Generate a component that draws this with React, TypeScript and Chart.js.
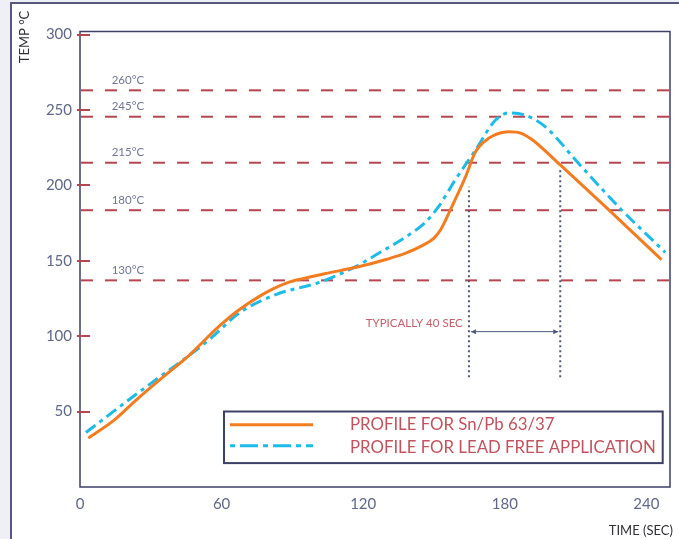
import React, { useEffect, useRef } from 'react';
import { Chart, registerables } from 'chart.js';

Chart.register(...registerables);

// Sn/Pb 63/37 profile (time in sec, temperature in °C)
const snPbTime = [3.5, 15, 24, 34, 46, 59, 67, 76, 82, 88, 94, 104, 118, 130, 138, 145, 150, 153, 156.3, 160, 163.4, 167.6, 173, 181.7, 187, 191.5, 203.5, 222.5, 246.4];
const snPbTemp = [32.4, 45, 58, 71.4, 87, 106.6, 117, 126.4, 131.5, 135.5, 138, 141.5, 146, 151, 155, 160, 165, 171, 181.6, 194, 205.8, 222.3, 231, 235.5, 234.5, 230.4, 213.5, 186, 150.7];

// Lead free profile
const leadFreeTime = [2.5, 21, 32.4, 46, 55, 67.6, 83, 101.4, 117, 126.7, 139.4, 146, 152, 159, 167.6, 176, 181.7, 188.7, 197.2, 211.2, 229.5, 248];
const leadFreeTemp = [36.1, 58.2, 71.4, 87, 98, 115.5, 127.6, 135.7, 146.3, 155.1, 167.2, 175, 186, 203.6, 223.4, 243.2, 248, 246.5, 238.8, 214.6, 183.7, 155.5];

// Reference temperature lines
const refLevels = [263, 245.5, 215, 183.5, 137];
const refLabels = ['260°C', '245°C', '215°C', '180°C', '130°C'];
const refLabelTime = 20.3;

// Axis ticks
const xTicks = [0, 60, 120, 180, 240];
const yTicks = [50, 100, 150, 200, 250, 300];

// "Typically 40 sec" window
const windowTimes = [164.8, 203.5];
const windowTops = [199, 210.8];
const windowBottom = 72.7;
const arrowTemp = 103;
const windowLabel = 'TYPICALLY 40 SEC';
const windowLabelTemp = 108.8;
const windowLabelTime = 162.2;

const seriesNames = ['PROFILE FOR Sn/Pb 63/37', 'PROFILE FOR LEAD FREE APPLICATION'];
const yTitle = 'TEMP °C';
const xTitle = 'TIME (SEC)';

const ORANGE = '#f47c20';
const BLUE = '#1fbbe8';
const RED = '#b4464f';
const NAVY = '#3d4067';

const decoPlugin = {
  id: 'deco',
  beforeDraw(chart: any) {
    const { ctx, width, height } = chart;
    ctx.save();
    ctx.fillStyle = '#eef0f5';
    ctx.fillRect(0, 0, width, height);
    ctx.fillStyle = '#ffffff';
    ctx.fillRect(11, 3, width, height);
    ctx.strokeStyle = '#55597c';
    ctx.lineWidth = 2;
    ctx.beginPath();
    ctx.moveTo(11, height + 5);
    ctx.lineTo(11, 3);
    ctx.lineTo(width + 5, 3);
    ctx.stroke();
    ctx.restore();
  },
  afterDatasetsDraw(chart: any) {
    const { ctx, chartArea } = chart;
    const xs = chart.scales.x;
    const ys = chart.scales.y;
    ctx.save();

    // plot border
    ctx.strokeStyle = NAVY;
    ctx.lineWidth = 1.5;
    ctx.strokeRect(chartArea.left, chartArea.top, chartArea.right - chartArea.left, chartArea.bottom - chartArea.top);

    // y tick marks
    ctx.strokeStyle = RED;
    ctx.lineWidth = 2;
    yTicks.forEach((v) => {
      const y = Math.round(ys.getPixelForValue(v));
      ctx.beginPath();
      ctx.moveTo(chartArea.left - 3, y);
      ctx.lineTo(chartArea.left + 10, y);
      ctx.stroke();
    });

    // reference labels
    ctx.fillStyle = '#6f7693';
    ctx.font = '11.5px Lato';
    ctx.textAlign = 'center';
    ctx.textBaseline = 'middle';
    refLevels.forEach((lv, i) => {
      ctx.fillText(refLabels[i], xs.getPixelForValue(refLabelTime), ys.getPixelForValue(lv) - 10);
    });

    // window label
    ctx.fillStyle = '#c3606a';
    ctx.font = '11.5px Lato';
    ctx.textAlign = 'right';
    ctx.fillText(windowLabel, xs.getPixelForValue(windowLabelTime), ys.getPixelForValue(windowLabelTemp));

    // arrow
    const ax1 = xs.getPixelForValue(windowTimes[0]) + 2;
    const ax2 = xs.getPixelForValue(windowTimes[1]) - 2;
    const ay = ys.getPixelForValue(arrowTemp);
    ctx.strokeStyle = '#4a5a78';
    ctx.fillStyle = '#4a5a78';
    ctx.lineWidth = 1;
    ctx.beginPath();
    ctx.moveTo(ax1, ay);
    ctx.lineTo(ax2, ay);
    ctx.stroke();
    ctx.beginPath();
    ctx.moveTo(ax1, ay);
    ctx.lineTo(ax1 + 5, ay - 2.5);
    ctx.lineTo(ax1 + 5, ay + 2.5);
    ctx.closePath();
    ctx.fill();
    ctx.beginPath();
    ctx.moveTo(ax2, ay);
    ctx.lineTo(ax2 - 5, ay - 2.5);
    ctx.lineTo(ax2 - 5, ay + 2.5);
    ctx.closePath();
    ctx.fill();

    // legend box
    const lx = chartArea.left + 144;
    const ly = chartArea.bottom - 75.5;
    const lw = 438.7;
    const lh = 51.6;
    ctx.fillStyle = '#ffffff';
    ctx.fillRect(lx, ly, lw, lh);
    ctx.strokeStyle = NAVY;
    ctx.lineWidth = 2;
    ctx.strokeRect(lx, ly, lw, lh);
    ctx.lineWidth = 3;
    ctx.strokeStyle = ORANGE;
    ctx.setLineDash([]);
    ctx.beginPath();
    ctx.moveTo(lx + 6, ly + 13.3);
    ctx.lineTo(lx + 89, ly + 13.3);
    ctx.stroke();
    ctx.strokeStyle = BLUE;
    ctx.setLineDash([5, 5, 18, 5]);
    ctx.beginPath();
    ctx.moveTo(lx + 6, ly + 34.3);
    ctx.lineTo(lx + 89, ly + 34.3);
    ctx.stroke();
    ctx.setLineDash([]);
    ctx.fillStyle = '#c2535e';
    ctx.font = '16.8px Lato';
    ctx.textAlign = 'left';
    ctx.textBaseline = 'middle';
    ctx.fillText(seriesNames[0], lx + 126, ly + 13.5);
    ctx.fillText(seriesNames[1], lx + 126, ly + 36.5);

    // axis titles
    ctx.fillStyle = '#2f3038';
    ctx.font = '13px Lato';
    ctx.textAlign = 'right';
    ctx.fillText(xTitle, 673, 531);
    ctx.translate(25, 37);
    ctx.rotate(-Math.PI / 2);
    ctx.textAlign = 'center';
    ctx.fillText(yTitle, 0, 0);

    ctx.restore();
  },
};

export default function App() {
  const ref = useRef<HTMLCanvasElement | null>(null);

  useEffect(() => {
    if (!ref.current) return;
    const datasets: any[] = [
      {
        label: seriesNames[0],
        data: snPbTime.map((t, i) => ({ x: t, y: snPbTemp[i] })),
        borderColor: ORANGE,
        borderWidth: 3,
        pointRadius: 0,
        cubicInterpolationMode: 'monotone',
        fill: false,
      },
      {
        label: seriesNames[1],
        data: leadFreeTime.map((t, i) => ({ x: t, y: leadFreeTemp[i] })),
        borderColor: BLUE,
        borderWidth: 3,
        borderDash: [12, 5, 4, 5],
        pointRadius: 0,
        cubicInterpolationMode: 'monotone',
        fill: false,
      },
      ...windowTimes.map((t, i) => ({
        label: 'window' + i,
        data: [
          { x: t, y: windowBottom },
          { x: t, y: windowTops[i] },
        ],
        borderColor: '#4d5877',
        borderWidth: 2,
        borderDash: [2, 3],
        pointRadius: 0,
        fill: false,
      })),
      ...refLevels.map((lv, i) => ({
        label: refLabels[i],
        data: [
          { x: 0, y: lv },
          { x: 250, y: lv },
        ],
        borderColor: RED,
        borderWidth: 2,
        borderDash: [12, 12],
        borderDashOffset: -1,
        pointRadius: 0,
        fill: false,
      })),
    ];

    const chart = new Chart(ref.current, {
      type: 'line',
      data: { datasets },
      options: {
        animation: false,
        responsive: false,
        layout: { padding: { top: 31.5, right: 9, left: 0, bottom: 0 } },
        plugins: { legend: { display: false }, tooltip: { enabled: false } },
        scales: {
          x: {
            type: 'linear',
            min: 0,
            max: 250,
            afterBuildTicks: (s: any) => {
              s.ticks = xTicks.map((v) => ({ value: v }));
            },
            afterFit: (s: any) => {
              s.height = 52;
            },
            grid: { display: false, drawTicks: false },
            border: { display: false },
            ticks: {
              padding: 8,
              color: '#5f6886',
              font: { family: 'Lato', size: 15 },
              maxRotation: 0,
              autoSkip: false,
            },
          },
          y: {
            type: 'linear',
            min: 0,
            max: 302,
            afterBuildTicks: (s: any) => {
              s.ticks = yTicks.map((v) => ({ value: v }));
            },
            afterFit: (s: any) => {
              s.width = 80;
            },
            grid: { display: false, drawTicks: false },
            border: { display: false },
            ticks: {
              padding: 8,
              color: '#5f6886',
              font: { family: 'Lato', size: 15 },
              autoSkip: false,
            },
          },
        },
      },
      plugins: [decoPlugin],
    });
    return () => chart.destroy();
  }, []);

  return (
    <div style={{ position: 'absolute', left: 0, top: 0, width: 679, height: 539 }}>
      <canvas ref={ref} width={679} height={539} style={{ display: 'block' }} />
    </div>
  );
}
